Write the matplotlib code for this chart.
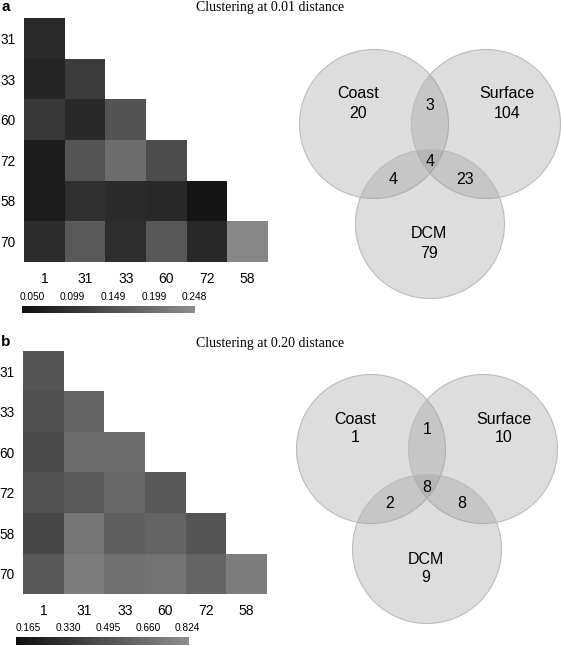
import numpy as np
import matplotlib.pyplot as plt
from matplotlib.colors import LinearSegmentedColormap
from matplotlib.patches import Circle

# heatmap labels (rows top -> bottom, columns left -> right)
row_labels = ["31", "33", "60", "72", "58", "70"]
col_labels = ["1", "31", "33", "60", "72", "58"]

# pairwise distances, lower triangle, clustering at 0.01
dist_a = [
    [0.084],
    [0.075, 0.112],
    [0.108, 0.082, 0.152],
    [0.062, 0.153, 0.195, 0.142],
    [0.062, 0.092, 0.085, 0.082, 0.049],
    [0.087, 0.162, 0.089, 0.158, 0.082, 0.238],
]
ticks_a = [0.050, 0.099, 0.149, 0.199, 0.248]

# pairwise distances, lower triangle, clustering at 0.20
dist_b = [
    [0.509],
    [0.481, 0.593],
    [0.453, 0.638, 0.638],
    [0.492, 0.537, 0.621, 0.526],
    [0.436, 0.694, 0.565, 0.593, 0.509],
    [0.526, 0.734, 0.661, 0.677, 0.593, 0.734],
]
ticks_b = [0.165, 0.330, 0.495, 0.660, 0.824]

# venn counts: Coast only, Surface only, DCM only, C&S, C&D, S&D, all three
set_names = ["Coast", "Surface", "DCM"]
venn_a = [20, 104, 79, 3, 4, 23, 4]
venn_b = [1, 10, 9, 1, 2, 8, 8]

titles = ["Clustering at 0.01 distance", "Clustering at 0.20 distance"]

W, H = 561, 646
fig = plt.figure(figsize=(W / 100, H / 100), dpi=100)
cmap = LinearSegmentedColormap.from_list("grays", ["#0e0e0e", "#8e8e8e"])


def px_axes(x0, y0, x1, y1):
    # axes box given in pixel coords, origin top-left
    return fig.add_axes([x0 / W, 1 - y1 / H, (x1 - x0) / W, (y1 - y0) / H])


def draw_heat(box, rows, vmin, vmax, cbox, ticks):
    ax = px_axes(*box)
    n = len(row_labels)
    m = np.full((n, n), np.nan)
    for i, r in enumerate(rows):
        m[i, :len(r)] = r
    mesh = ax.pcolormesh(np.ma.masked_invalid(m), cmap=cmap, vmin=vmin, vmax=vmax,
                         linewidth=0)
    ax.set_xlim(0, n)
    ax.set_ylim(n, 0)
    ax.set_xticks(np.arange(n) + 0.5, col_labels, fontfamily="Liberation Sans")
    ax.set_yticks(np.arange(n) + 0.5, row_labels, fontfamily="Liberation Sans")
    ax.tick_params(axis="x", length=0, labelsize=10, pad=7)
    ax.tick_params(axis="y", length=0, labelsize=9.8, pad=6)
    for s in ax.spines.values():
        s.set_visible(False)

    cax = px_axes(*cbox)
    cb = fig.colorbar(mesh, cax=cax, orientation="horizontal", ticks=ticks)
    cb.outline.set_visible(False)
    cax.xaxis.set_ticks_position("top")
    cax.set_xticklabels(["%.3f" % t for t in ticks], fontfamily="Liberation Sans")
    cax.tick_params(length=0, labelsize=7.3, pad=3)


draw_heat((24, 18, 268, 262), dist_a, 0.037, 0.249, (22, 306, 195, 313), ticks_a)
draw_heat((23, 351, 267, 594), dist_b, 0.116, 0.829, (16, 637, 189, 645), ticks_b)

# overlay in pixel coords for venns and titles
ov = fig.add_axes([0, 0, 1, 1], zorder=-1)
ov.set_xlim(0, W)
ov.set_ylim(H, 0)
ov.axis("off")


def venn(cx, cy, counts):
    r = 74.5
    centers = [(cx - 56, cy), (cx + 56, cy), (cx, cy + 100)]
    for c in centers:
        ov.add_patch(Circle(c, r, facecolor="#969696", alpha=0.32, edgecolor="none"))
        ov.add_patch(Circle(c, r, fill=False, edgecolor="#bcbcbc", linewidth=0.8))
    kw = dict(ha="center", va="center", fontsize=11.5, fontfamily="Liberation Sans")
    name_pos = [(cx - 72, cy - 30), (cx + 77, cy - 30), (cx - 1, cy + 110)]
    for (x, y), name, cnt in zip(name_pos, set_names, counts[:3]):
        ov.text(x, y, name, **kw)
        ov.text(x, y + 19, str(cnt), **kw)
    ov.text(cx, cy - 19, str(counts[3]), **kw)
    ov.text(cx - 37, cy + 55, str(counts[4]), **kw)
    ov.text(cx + 35, cy + 55, str(counts[5]), **kw)
    ov.text(cx, cy + 38, str(counts[6]), **kw)


venn(430, 124, venn_a)
venn(427, 449, venn_b)

for y, t, letter in [(8, titles[0], "a"), (343, titles[1], "b")]:
    ov.text(270, y, t, ha="center", va="center", fontsize=10, fontfamily="Liberation Serif")
    ov.text(1, y - 1, letter, ha="left", va="center", fontsize=11, fontweight="bold",
            fontfamily="Liberation Sans")

fig.savefig("out.png", dpi=100)
